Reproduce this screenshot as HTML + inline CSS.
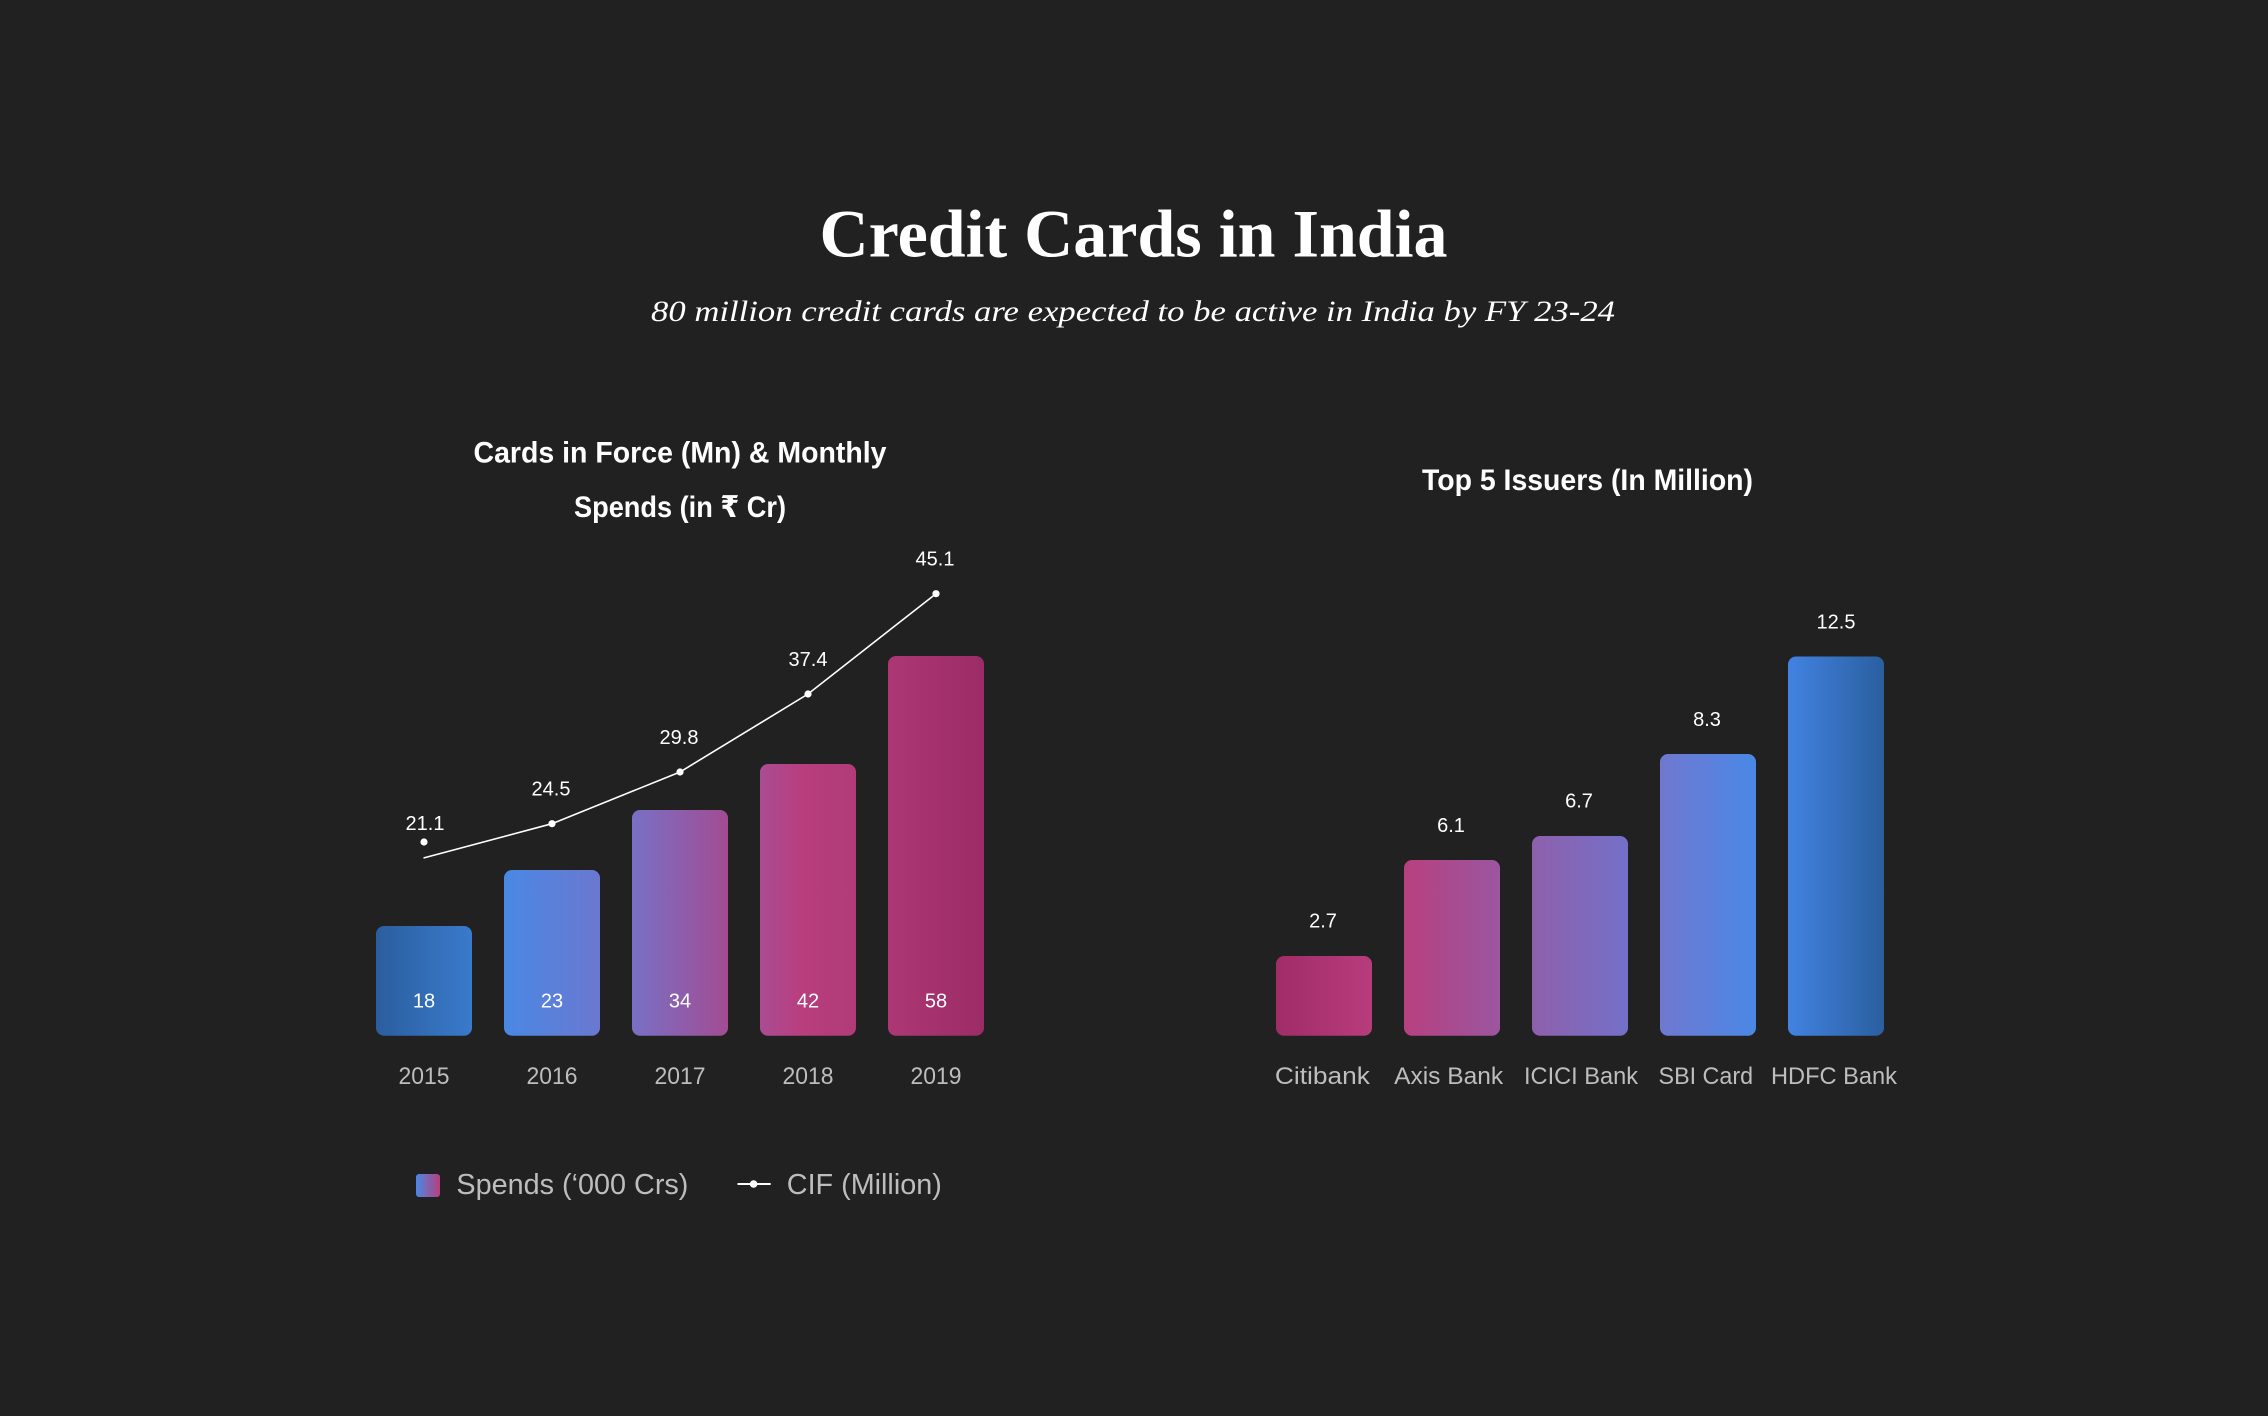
<!DOCTYPE html>
<html>
<head>
<meta charset="utf-8">
<style>
  html, body { margin: 0; padding: 0; background: #212121; }
  svg { display: block; }
</style>
</head>
<body>
<svg xmlns="http://www.w3.org/2000/svg" width="2268" height="1416" viewBox="0 0 2268 1416">
  <defs>
    <linearGradient id="gL" gradientUnits="userSpaceOnUse" x1="376" y1="0" x2="984" y2="0">
      <stop offset="0" stop-color="#2a5e9e"/>
      <stop offset="0.158" stop-color="#3a7acc"/>
      <stop offset="0.211" stop-color="#4a88e4"/>
      <stop offset="0.368" stop-color="#6a78d0"/>
      <stop offset="0.421" stop-color="#7870c6"/>
      <stop offset="0.579" stop-color="#a24c92"/>
      <stop offset="0.632" stop-color="#aa4c94"/>
      <stop offset="0.70" stop-color="#b83e7e"/>
      <stop offset="0.80" stop-color="#b03a78"/>
      <stop offset="1" stop-color="#9c2c66"/>
    </linearGradient>
    <linearGradient id="gR" gradientUnits="userSpaceOnUse" x1="1276" y1="0" x2="1884" y2="0">
      <stop offset="0" stop-color="#a02c68"/>
      <stop offset="0.158" stop-color="#b83c7c"/>
      <stop offset="0.211" stop-color="#b8407f"/>
      <stop offset="0.368" stop-color="#9a56a0"/>
      <stop offset="0.421" stop-color="#8e60ac"/>
      <stop offset="0.579" stop-color="#7470c8"/>
      <stop offset="0.632" stop-color="#7078d0"/>
      <stop offset="0.789" stop-color="#4a88e6"/>
      <stop offset="0.842" stop-color="#4282e2"/>
      <stop offset="1" stop-color="#2a5f9f"/>
    </linearGradient>
    <linearGradient id="gLeg" x1="0" y1="0" x2="1" y2="0">
      <stop offset="0" stop-color="#4a88e4"/>
      <stop offset="1" stop-color="#b83e7e"/>
    </linearGradient>
  </defs>

  <rect x="0" y="0" width="2268" height="1416" fill="#212121"/>

  <!-- Main title -->
  <text x="1133.5" y="256.7" text-anchor="middle" font-family="'Liberation Serif', serif" font-weight="bold" font-size="68" fill="#ffffff" textLength="628" lengthAdjust="spacingAndGlyphs">Credit Cards in India</text>
  <text x="1133" y="321" text-anchor="middle" font-family="'Liberation Serif', serif" font-style="italic" font-size="30" fill="#ffffff" textLength="964" lengthAdjust="spacingAndGlyphs">80 million credit cards are expected to be active in India by FY 23-24</text>

  <!-- Left chart title -->
  <text x="680" y="462.5" text-anchor="middle" font-family="'Liberation Sans', sans-serif" font-weight="bold" font-size="30" fill="#ffffff" textLength="413" lengthAdjust="spacingAndGlyphs">Cards in Force (Mn) &amp; Monthly</text>
  <text x="680" y="517" text-anchor="middle" font-family="'Liberation Sans', 'DejaVu Sans', sans-serif" font-weight="bold" font-size="30" fill="#ffffff" textLength="212" lengthAdjust="spacingAndGlyphs">Spends (in ₹ Cr)</text>

  <!-- Left bars -->
  <g fill="url(#gL)">
    <rect x="376" y="926" width="96" height="109.7" rx="8" ry="8"/>
    <rect x="504" y="870" width="96" height="165.7" rx="8" ry="8"/>
    <rect x="632" y="810" width="96" height="225.7" rx="8" ry="8"/>
    <rect x="760" y="764" width="96" height="271.7" rx="8" ry="8"/>
    <rect x="888" y="656" width="96" height="379.7" rx="8" ry="8"/>
  </g>
  <g font-family="'Liberation Sans', sans-serif" font-size="20" fill="#ffffff" text-anchor="middle">
    <text x="424" y="1007.7">18</text>
    <text x="552" y="1007.7">23</text>
    <text x="680" y="1007.7">34</text>
    <text x="808" y="1007.7">42</text>
    <text x="936" y="1007.7">58</text>
  </g>

  <!-- Line -->
  <polyline points="423.5,858 552,823.7 680,772 808,694 936,593.7" fill="none" stroke="#ffffff" stroke-width="1.6"/>
  <g fill="#ffffff">
    <circle cx="424" cy="842" r="3.6"/>
    <circle cx="552" cy="823.7" r="3.6"/>
    <circle cx="680" cy="772" r="3.6"/>
    <circle cx="808" cy="694" r="3.6"/>
    <circle cx="936" cy="593.7" r="3.6"/>
  </g>
  <g font-family="'Liberation Sans', sans-serif" font-size="20" fill="#ffffff" text-anchor="middle">
    <text x="425" y="830">21.1</text>
    <text x="551" y="795.7">24.5</text>
    <text x="679" y="744">29.8</text>
    <text x="808" y="666">37.4</text>
    <text x="935" y="565.7">45.1</text>
  </g>

  <!-- Left x labels -->
  <g font-family="'Liberation Sans', sans-serif" font-size="24" fill="#bdbdbd" text-anchor="middle">
    <text x="424" y="1084" textLength="51" lengthAdjust="spacingAndGlyphs">2015</text>
    <text x="552" y="1084" textLength="51" lengthAdjust="spacingAndGlyphs">2016</text>
    <text x="680" y="1084" textLength="51" lengthAdjust="spacingAndGlyphs">2017</text>
    <text x="808" y="1084" textLength="51" lengthAdjust="spacingAndGlyphs">2018</text>
    <text x="936" y="1084" textLength="51" lengthAdjust="spacingAndGlyphs">2019</text>
  </g>

  <!-- Legend -->
  <rect x="416" y="1174" width="24" height="23" rx="3" ry="3" fill="url(#gLeg)"/>
  <text x="456.4" y="1194" font-family="'Liberation Sans', sans-serif" font-size="29" fill="#bdbdbd" textLength="232" lengthAdjust="spacingAndGlyphs">Spends (‘000 Crs)</text>
  <line x1="737.5" y1="1184" x2="770.7" y2="1184" stroke="#ffffff" stroke-width="2"/>
  <circle cx="753.6" cy="1184" r="3.8" fill="#ffffff"/>
  <text x="786.8" y="1194" font-family="'Liberation Sans', sans-serif" font-size="29" fill="#bdbdbd" textLength="155" lengthAdjust="spacingAndGlyphs">CIF (Million)</text>

  <!-- Right chart title -->
  <text x="1587.5" y="489.8" text-anchor="middle" font-family="'Liberation Sans', sans-serif" font-weight="bold" font-size="30" fill="#ffffff" textLength="331" lengthAdjust="spacingAndGlyphs">Top 5 Issuers (In Million)</text>

  <!-- Right bars -->
  <g fill="url(#gR)">
    <rect x="1276" y="956" width="96" height="79.7" rx="8" ry="8"/>
    <rect x="1404" y="860" width="96" height="175.7" rx="8" ry="8"/>
    <rect x="1532" y="836" width="96" height="199.7" rx="8" ry="8"/>
    <rect x="1660" y="754" width="96" height="281.7" rx="8" ry="8"/>
    <rect x="1788" y="656.5" width="96" height="379.2" rx="8" ry="8"/>
  </g>
  <g font-family="'Liberation Sans', sans-serif" font-size="20" fill="#ffffff" text-anchor="middle">
    <text x="1323" y="927.3">2.7</text>
    <text x="1451" y="832">6.1</text>
    <text x="1579" y="807.7">6.7</text>
    <text x="1707" y="726">8.3</text>
    <text x="1836" y="628.7">12.5</text>
  </g>
  <g font-family="'Liberation Sans', sans-serif" font-size="24" fill="#bdbdbd" text-anchor="middle">
    <text x="1322.4" y="1083.8" textLength="95" lengthAdjust="spacingAndGlyphs">Citibank</text>
    <text x="1448.6" y="1083.8" textLength="109" lengthAdjust="spacingAndGlyphs">Axis Bank</text>
    <text x="1581" y="1083.8" textLength="114" lengthAdjust="spacingAndGlyphs">ICICI Bank</text>
    <text x="1705.8" y="1083.8" textLength="94.5" lengthAdjust="spacingAndGlyphs">SBI Card</text>
    <text x="1834" y="1083.8" textLength="126" lengthAdjust="spacingAndGlyphs">HDFC Bank</text>
  </g>
</svg>
</body>
</html>
